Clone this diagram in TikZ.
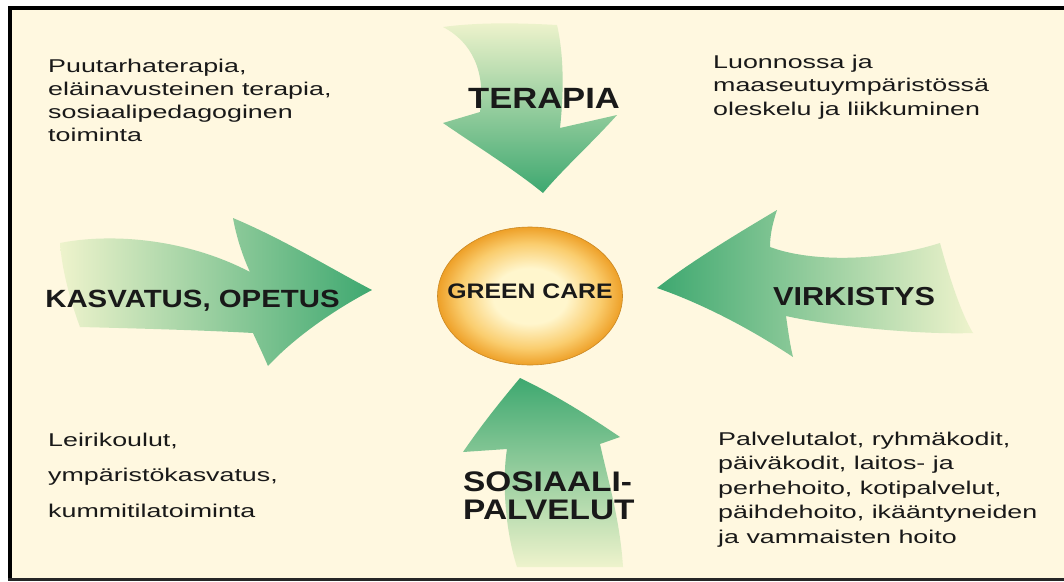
\documentclass[tikz,border=0pt]{standalone}
\usepackage{fontspec}
\setmainfont{Liberation Sans}
\newfontfamily\bodyfont[FakeStretch=1.45]{Liberation Sans}
\newfontfamily\titlefont[FakeStretch=1.18]{Liberation Sans}
\usetikzlibrary{shapes.geometric}
\definecolor{cream}{RGB}{255,248,224}
\definecolor{agreen}{RGB}{62,168,112}
\definecolor{apale}{RGB}{238,243,204}
\definecolor{amid}{RGB}{140,204,148}
\definecolor{gcin}{RGB}{255,246,205}
\definecolor{gcmid}{RGB}{250,205,110}
\definecolor{gcout}{RGB}{238,160,40}
\definecolor{txt}{RGB}{25,25,25}
\pgfdeclareradialshading{gcshade}{\pgfpoint{0bp}{0bp}}{color(0bp)=(gcin); color(10bp)=(gcin); color(19bp)=(gcmid); color(25bp)=(gcout); color(50bp)=(gcout)}
\begin{document}
\begin{tikzpicture}[x=1pt,y=-1pt,
  bodytext/.style={anchor=north west, inner sep=0pt, align=left, text=txt},
  ttl/.style={inner sep=0pt, text=txt},
]
\useasboundingbox (0,0) rectangle (1064,581);
% background and frame
\fill[white] (0,0) rectangle (1064,581);
\fill[cream] (8,6) rectangle (1064,581);
\fill[black] (8,6) rectangle (1064,10);
\fill[black] (8,6) rectangle (12,581);
\fill[black!85] (8,578) rectangle (1064,581);

% TERAPIA arrow (down)
\shade[top color=apale, middle color=amid, bottom color=agreen]
  (443,27) .. controls (480,22) and (520,23) .. (557,25)
  .. controls (565,60) and (563,100) .. (560,128)
  -- (617,115)
  .. controls (592,143) and (562,170) .. (543,193)
  .. controls (515,170) and (475,145) .. (443,123)
  -- (480,112)
  .. controls (486,72) and (472,42) .. (443,27) -- cycle;

% KASVATUS arrow (right)
\shade[left color=apale, middle color=amid, right color=agreen]
  (60,243) .. controls (110,233) and (185,238) .. (250,272)
  .. controls (242,255) and (236,235) .. (233,218)
  .. controls (285,240) and (330,268) .. (372,290)
  .. controls (330,312) and (292,340) .. (268,366)
  .. controls (262,352) and (257,342) .. (253,333)
  .. controls (200,330) and (120,328) .. (80,327)
  .. controls (70,300) and (62,270) .. (60,243) -- cycle;

% VIRKISTYS arrow (left)
\shade[left color=agreen, middle color=amid, right color=apale]
  (657,288) .. controls (690,262) and (740,232) .. (777,210)
  .. controls (772,225) and (770,236) .. (770,247)
  .. controls (810,262) and (880,262) .. (940,243)
  .. controls (950,280) and (962,315) .. (973,333)
  .. controls (920,335) and (830,326) .. (786,316)
  .. controls (788,330) and (790,345) .. (793,357)
  .. controls (740,322) and (692,300) .. (657,288) -- cycle;

% SOSIAALIPALVELUT arrow (up)
\shade[top color=agreen, middle color=amid, bottom color=apale]
  (520,378) .. controls (558,396) and (595,420) .. (620,437)
  -- (600,444)
  .. controls (608,480) and (620,520) .. (623,567)
  -- (517,567)
  .. controls (505,530) and (502,480) .. (507,449)
  -- (463,452)
  .. controls (485,420) and (505,396) .. (520,378) -- cycle;

% centre
\node[ellipse, minimum width=185pt, minimum height=138pt, inner sep=0pt,
      shading=gcshade, draw=gcout!85!black, line width=0.6pt] (gc) at (530,296) {};
\node[ttl, anchor=base, font=\titlefont\bfseries\fontsize{21}{22}\selectfont] (gct) at (530,298) {GREEN CARE};

% titles
\node[ttl, anchor=base, font=\titlefont\bfseries\fontsize{29.3}{30}\selectfont] (ter) at (544,108) {TERAPIA};
\node[ttl, anchor=base, font=\titlefont\bfseries\fontsize{24.9}{26}\selectfont] (kas) at (192.5,307) {KASVATUS, OPETUS};
\node[ttl, anchor=base, font=\titlefont\bfseries\fontsize{26}{27}\selectfont] (vir) at (854,305) {VIRKISTYS};
\node[ttl, anchor=north west, align=left, font=\titlefont\bfseries\fontsize{28.3}{28}\selectfont] (sos) at (463,471.5) {SOSIAALI-\\PALVELUT};

% body texts
\node[bodytext, font=\bodyfont\fontsize{18.5}{23}\selectfont] (tl) at (48,58.8)
  {Puutarhaterapia,\\eläinavusteinen terapia,\\sosiaalipedagoginen\\toiminta};
\node[bodytext, font=\bodyfont\fontsize{18.5}{23.5}\selectfont] (tr) at (713,54.8)
  {Luonnossa ja\\maaseutuympäristössä\\oleskelu ja liikkuminen};
\node[bodytext, font=\bodyfont\fontsize{18.5}{35.5}\selectfont] (bl) at (48,432.8)
  {Leirikoulut,\\ympäristökasvatus,\\kummitilatoiminta};
\node[bodytext, font=\bodyfont\fontsize{18.5}{24.5}\selectfont] (br) at (718,431.8)
  {Palvelutalot, ryhmäkodit,\\päiväkodit, laitos- ja\\perhehoito, kotipalvelut,\\päihdehoito, ikääntyneiden\\ja vammaisten hoito};
\end{tikzpicture}
\end{document}
